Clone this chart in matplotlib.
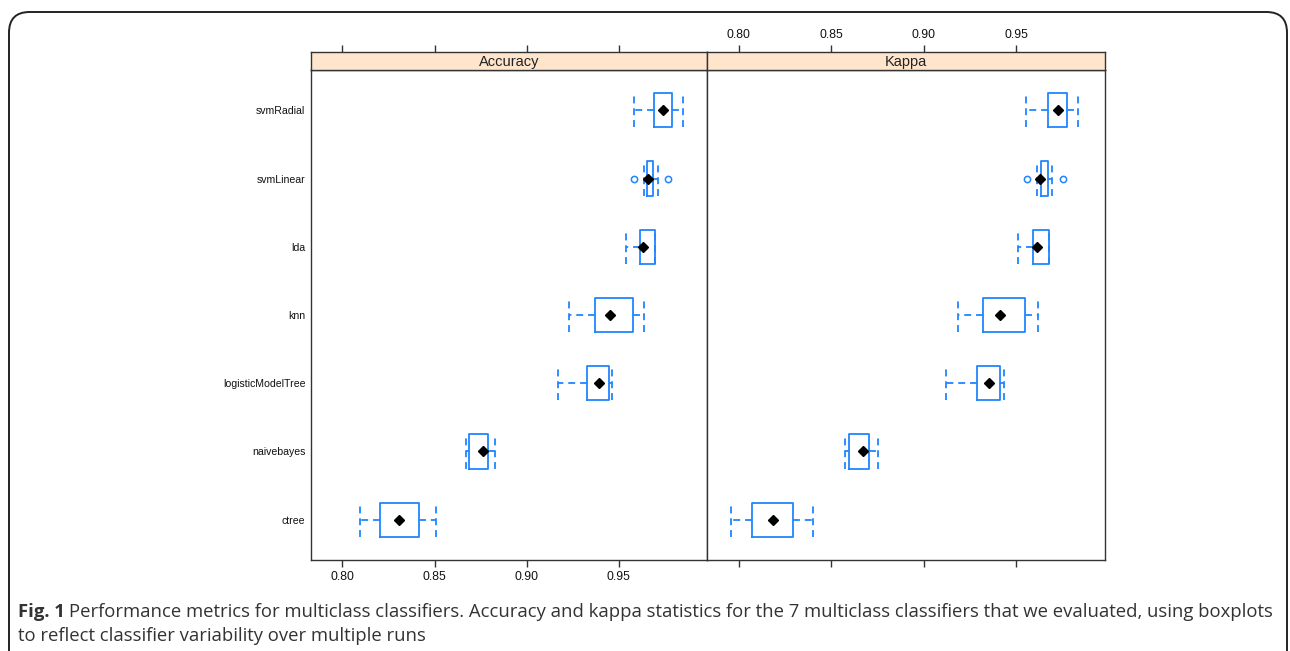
import matplotlib
matplotlib.use("Agg")
import matplotlib.pyplot as plt
from matplotlib.patches import FancyBboxPatch

plt.rcParams['lines.scale_dashes'] = False

# classifiers, bottom row first
models = ["ctree", "naivebayes", "logisticModelTree", "knn", "lda", "svmLinear", "svmRadial"]

acc_lo = [0.8097, 0.8670, 0.9171, 0.9233, 0.9542, 0.9637, 0.9583]
acc_q1 = [0.8206, 0.8686, 0.9328, 0.9370, 0.9616, 0.9655, 0.9691]
acc_med = [0.8305, 0.8763, 0.9395, 0.9455, 0.9633, 0.9658, 0.9740]
acc_q3 = [0.8413, 0.8789, 0.9448, 0.9578, 0.9698, 0.9689, 0.9789]
acc_hi = [0.8507, 0.8830, 0.9466, 0.9637, 0.9700, 0.9713, 0.9850]
acc_out = [[], [], [], [], [], [0.9583, 0.9767], []]

kap_lo = [0.7959, 0.8575, 0.9119, 0.9184, 0.9508, 0.9611, 0.9555]
kap_q1 = [0.8074, 0.8597, 0.9287, 0.9321, 0.9591, 0.9632, 0.9672]
kap_med = [0.8188, 0.8672, 0.9352, 0.9415, 0.9614, 0.9630, 0.9724]
kap_q3 = [0.8295, 0.8707, 0.9412, 0.9549, 0.9678, 0.9674, 0.9775]
kap_hi = [0.8400, 0.8754, 0.9434, 0.9618, 0.9680, 0.9692, 0.9835]
kap_out = [[], [], [], [], [], [0.9556, 0.9755], []]

xticks = [0.80, 0.85, 0.90, 0.95]
xtick_labels = ["0.80", "0.85", "0.90", "0.95"]

W, H = 1290, 651
BLUE = "#1f86ff"
AXC = "#333333"

fig = plt.figure(figsize=(W / 100, H / 100), dpi=100)
fig.patch.set_facecolor("white")

def px(left, top, right, bottom):
    return [left / W, (H - bottom) / H, (right - left) / W, (bottom - top) / H]

# rounded outer frame (bottom runs off the image)
frame = FancyBboxPatch((9 / W, -40 / H), 1278 / W, (H - 12 + 40) / H,
                       boxstyle="round,pad=0,rounding_size=0.016",
                       mutation_aspect=W / H,
                       transform=fig.transFigure, fill=False, edgecolor="#222222", linewidth=1.4)
fig.patches.append(frame)

panels = [
    ("Accuracy", (311, 707), acc_lo, acc_q1, acc_med, acc_q3, acc_hi, acc_out, "bottom"),
    ("Kappa", (707, 1105), kap_lo, kap_q1, kap_med, kap_q3, kap_hi, kap_out, "top"),
]
xlim = (0.7829, 0.998)
ylim = (0.41, 7.59)

for k, (name, (l, r), lo, q1, med, q3, hi, out, lab_side) in enumerate(panels):
    ax = fig.add_axes(px(l, 70, r, 560))
    stats = []
    for i in range(len(models)):
        stats.append(dict(whislo=lo[i], q1=q1[i], med=med[i], q3=q3[i], whishi=hi[i], fliers=out[i]))
    pos = list(range(1, len(models) + 1))
    ax.bxp(stats, positions=pos, widths=0.5, capwidths=0.5, orientation="horizontal",
           showfliers=True,
           boxprops=dict(color=BLUE, linewidth=1.3),
           whiskerprops=dict(color=BLUE, linewidth=1.3, linestyle=(0, (5, 3.5))),
           capprops=dict(color=BLUE, linewidth=1.3, linestyle=(0, (5, 3.5))),
           medianprops=dict(linewidth=0),
           flierprops=dict(marker="o", markersize=4.5, markerfacecolor="none",
                           markeredgecolor=BLUE, markeredgewidth=1.1))
    ax.plot(med, pos, linestyle="none", marker="D", markersize=5, color="black", zorder=5)
    ax.set_xlim(*xlim)
    ax.set_ylim(*ylim)
    for s in ax.spines.values():
        s.set_color(AXC)
        s.set_linewidth(1.0)
    ax.set_xticks(xticks)
    if lab_side == "bottom":
        ax.set_xticklabels(xtick_labels, fontsize=8.8, family="Liberation Sans", color="#111111")
    else:
        ax.set_xticklabels([])
    ax.tick_params(axis="x", direction="out", length=5, width=1.0, color=AXC, pad=3)
    if k == 0:
        ax.set_yticks(pos)
        ax.set_yticklabels(models, fontsize=7.6, family="Liberation Sans", color="#111111")
        ax.tick_params(axis="y", length=0, pad=4)
    else:
        ax.set_yticks([])

    # strip on top of panel
    st = fig.add_axes(px(l, 52, r, 70))
    st.set_facecolor("#ffe5cc")
    st.set_xlim(*xlim)
    st.set_ylim(0, 1)
    st.set_yticks([])
    for s in st.spines.values():
        s.set_color(AXC)
        s.set_linewidth(1.0)
    st.xaxis.set_ticks_position("top")
    st.set_xticks(xticks)
    if lab_side == "top":
        st.set_xticklabels(xtick_labels, fontsize=8.8, family="Liberation Sans", color="#111111")
    else:
        st.set_xticklabels([])
    st.tick_params(axis="x", direction="out", length=5, width=1.0, color=AXC, pad=3)
    st.text(0.5, 0.42, name, transform=st.transAxes, ha="center", va="center",
            fontsize=10.5, family="Liberation Sans", color="#222222")

# caption
cap_fs = 13.3
y1 = 1 - 612 / H
y2 = 1 - 636 / H
t0 = fig.text(18 / W, y1, "Fig. 1", fontsize=cap_fs, family="Open Sans", fontweight="bold",
              color="#333333", va="center")
fig.canvas.draw()
ext = t0.get_window_extent()
fig.text(ext.x1 / W + 4 / W, y1,
         "Performance metrics for multiclass classifiers. Accuracy and kappa statistics for the 7 multiclass "
         "classifiers that we evaluated, using boxplots",
         fontsize=cap_fs, family="Open Sans", color="#333333", va="center")
fig.text(18 / W, y2, "to reflect classifier variability over multiple runs",
         fontsize=cap_fs, family="Open Sans", color="#333333", va="center")

fig.savefig("out.png", dpi=100, facecolor="white")
